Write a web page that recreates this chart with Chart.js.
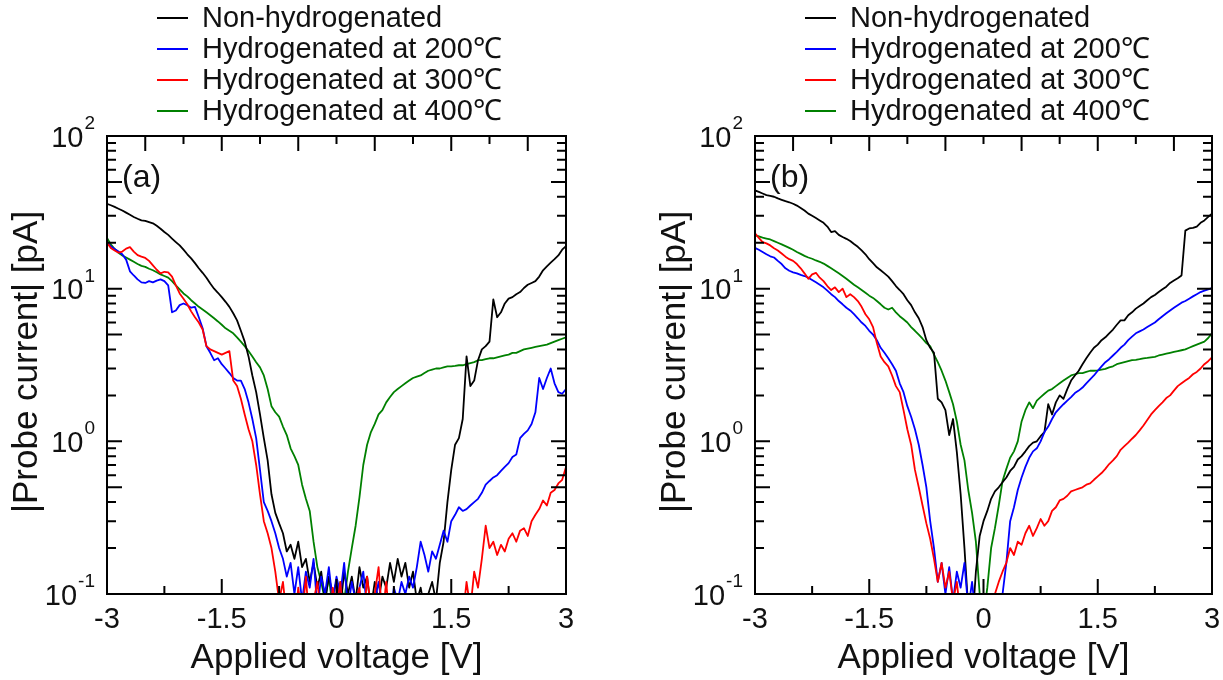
<!DOCTYPE html>
<html>
<head>
<meta charset="utf-8">
<script src="https://cdn.jsdelivr.net/npm/chart.js@4.4.1/dist/chart.umd.min.js"></script>
<style>
  html, body { margin: 0; padding: 0; background: #fff; }
  #wrap { position: relative; width: 1223px; height: 680px; }
  canvas { position: absolute; top: 0; }
  #panelA { left: 0; }
  #panelB { left: 612px; }
</style>
</head>
<body>
<div id="wrap">
  <canvas id="panelA" width="612" height="680"></canvas>
  <canvas id="panelB" width="611" height="680"></canvas>
</div>
<script>
// applied voltage sweep [V]
const voltage = [
  -3, -2.95, -2.9, -2.85, -2.8, -2.75, -2.7, -2.65, -2.6, -2.55,
  -2.5, -2.45, -2.4, -2.35, -2.3, -2.25, -2.2, -2.15, -2.1, -2.05,
  -2, -1.95, -1.9, -1.85, -1.8, -1.75, -1.7, -1.65, -1.6, -1.55,
  -1.5, -1.45, -1.4, -1.35, -1.3, -1.25, -1.2, -1.15, -1.1, -1.05,
  -1, -0.95, -0.9, -0.85, -0.8, -0.75, -0.7, -0.65, -0.6, -0.55,
  -0.5, -0.45, -0.4, -0.35, -0.3, -0.25, -0.2, -0.15, -0.1, -0.05,
  0, 0.05, 0.1, 0.15, 0.2, 0.25, 0.3, 0.35, 0.4, 0.45,
  0.5, 0.55, 0.6, 0.65, 0.7, 0.75, 0.8, 0.85, 0.9, 0.95,
  1, 1.05, 1.1, 1.15, 1.2, 1.25, 1.3, 1.35, 1.4, 1.45,
  1.5, 1.55, 1.6, 1.65, 1.7, 1.75, 1.8, 1.85, 1.9, 1.95,
  2, 2.05, 2.1, 2.15, 2.2, 2.25, 2.3, 2.35, 2.4, 2.45,
  2.5, 2.55, 2.6, 2.65, 2.7, 2.75, 2.8, 2.85, 2.9, 2.95,
  3
];

// |probe current| [pA], panel (a)
const aNonHyd = [
  36, 35.2, 34.3, 33.4, 32.5, 31.5, 30.5, 29.5, 28.7, 28,
  27.8, 27.3, 26.8, 25.8, 24.7, 23.5, 22.5, 21.3, 20.2, 19.2,
  18, 16.8, 15.8, 14.7, 13.6, 12.7, 11.8, 10.8, 10, 9.4,
  8.8, 8.2, 7.6, 6.9, 6.2, 5.3, 4.5, 3.6, 2.7, 2.1,
  1.5, 1.05, 0.75, 0.45, 0.34, 0.29, 0.25, 0.19, 0.21, 0.17,
  0.22, 0.15, 0.17, 0.12, 0.16, 0.11, 0.14, 0.09, 0.13, 0.1,
  0.12, 0.08, 0.14, 0.1, 0.13, 0.09, 0.15, 0.11, 0.13, 0.08,
  0.12, 0.09, 0.13, 0.11, 0.16, 0.12, 0.17, 0.13, 0.16, 0.11,
  0.14, 0.09, 0.11, 0.08, 0.1, 0.12, 0.09, 0.16, 0.22, 0.4,
  0.65, 0.95, 1.05, 1.4, 3.6, 2.3, 2.5, 3.4, 4, 4.2,
  4.5, 8.5, 6.5, 7, 8, 8.6, 8.8, 9.2, 9.5, 10.1,
  10.6, 10.9, 11.2, 12, 13.2, 14, 14.8, 15.6, 16.5, 18,
  19
];
const aHyd200 = [
  20, 19, 18.2, 17.5, 16.8, 15.5, 13, 12.2, 11.5, 11,
  10.9, 11.2, 11, 11.3, 11.5, 11.2, 10.5, 7, 7.2, 7.8,
  8, 7.8, 7.5, 7.6, 6.5, 5.5, 4.2, 3.8, 3.4, 3.5,
  3.2, 3, 2.8, 2.6, 2.5, 2.5, 2.2, 1.8, 1.4, 1.05,
  0.65, 0.4, 0.35, 0.3, 0.25, 0.2, 0.17, 0.13, 0.16, 0.1,
  0.15, 0.09, 0.14, 0.11, 0.17, 0.08, 0.13, 0.1, 0.15, 0.09,
  0.13, 0.1, 0.16, 0.08, 0.12, 0.09, 0.11, 0.14, 0.08, 0.1,
  0.09, 0.12, 0.08, 0.1, 0.07, 0.11, 0.09, 0.12, 0.1, 0.13,
  0.11, 0.15, 0.22, 0.18, 0.14, 0.19, 0.17, 0.21, 0.26, 0.22,
  0.3, 0.33, 0.37, 0.35, 0.36, 0.38, 0.4, 0.42, 0.46, 0.52,
  0.55, 0.58, 0.6, 0.64, 0.68, 0.72, 0.79, 0.82, 1.05, 1.12,
  1.18, 1.3, 1.55, 2.6, 2.2, 2.6, 3, 2.4, 2.1, 2.05,
  2.2
];
const aHyd300 = [
  20, 18.5, 17.8, 17.2, 17.5, 18.3, 18.7, 17.5, 16.6, 16.2,
  15.9, 15.2, 14.2, 13.3, 12.6, 12.9, 12.8, 12, 10.5, 9.3,
  8.6, 7.9, 7.1, 6.5, 6, 5.4, 4.2, 4, 3.9, 3.8,
  3.7, 3.8, 3.9, 2.5, 2.3, 1.9, 1.5, 1.2, 1, 0.7,
  0.45, 0.3, 0.25, 0.2, 0.14, 0.09, 0.12, 0.07, 0.1, 0.06,
  0.11, 0.07, 0.13, 0.06, 0.09, 0.12, 0.07, 0.1, 0.06, 0.11,
  0.08, 0.12, 0.06, 0.1, 0.07, 0.09, 0.11, 0.06, 0.13, 0.08,
  0.1, 0.15, 0.07, 0.12, 0.06, 0.08, 0.1, 0.06, 0.09, 0.07,
  0.06, 0.09, 0.07, 0.05, 0.08, 0.06, 0.1, 0.07, 0.06, 0.09,
  0.07, 0.06, 0.09, 0.07, 0.12, 0.08, 0.14, 0.11, 0.17, 0.28,
  0.2, 0.22, 0.18, 0.21, 0.19, 0.23, 0.25, 0.22, 0.26, 0.27,
  0.24, 0.3, 0.33, 0.36, 0.41, 0.38, 0.46, 0.48, 0.53, 0.56,
  0.68
];
const aHyd400 = [
  21.5, 19.5, 18.2, 17.2, 16.5, 16, 15.5, 15, 14.5, 14.1,
  13.9, 13.5, 13.2, 12.8, 12.4, 12.1, 11.8, 11.2, 10.5, 9.9,
  9.3, 8.9, 8.4, 8, 7.6, 7.3, 7, 6.7, 6.4, 6.1,
  5.8, 5.5, 5.3, 5.1, 4.8, 4.5, 4.2, 3.9, 3.6, 3.3,
  3.05, 2.7, 2.2, 1.7, 1.55, 1.45, 1.25, 1.1, 0.9, 0.8,
  0.7, 0.52, 0.42, 0.35, 0.22, 0.15, 0.12, 0.09, 0.13, 0.08,
  0.1, 0.12, 0.09, 0.14, 0.2, 0.28, 0.43, 0.7, 0.95, 1.15,
  1.3, 1.5, 1.6, 1.8, 1.95, 2.1, 2.2, 2.3, 2.4, 2.5,
  2.6, 2.65, 2.7, 2.8, 2.9, 2.95, 3, 3, 3.05, 3.1,
  3.1, 3.12, 3.15, 3.15, 3.2, 3.25, 3.3, 3.4, 3.4, 3.45,
  3.5, 3.5, 3.55, 3.6, 3.65, 3.7, 3.8, 3.8, 3.9, 4,
  4.05, 4.1, 4.15, 4.2, 4.25, 4.3, 4.4, 4.5, 4.6, 4.7,
  4.8
];

// |probe current| [pA], panel (b)
const bNonHyd = [
  44, 43, 42, 41, 40.5, 40, 39, 38.2, 37.4, 36.8,
  36, 35, 33.8, 32.5, 31, 30, 29, 28, 27, 25.5,
  23.5, 23.8, 22.5, 21.8, 21.2, 20.5, 19.6, 18.8, 17.8, 16.8,
  15.6, 14.7, 13.8, 13.2, 12.6, 12, 11.2, 10.4, 9.8, 9.2,
  8.4, 7.8, 7, 6.4, 5.6, 4.6, 4.1, 3.8, 1.9, 1.8,
  1.6, 1.1, 1.4, 0.85, 0.45, 0.2, 0.08, 0.06, 0.14, 0.24,
  0.3, 0.35, 0.42, 0.47, 0.5, 0.54, 0.58, 0.64, 0.68, 0.76,
  0.8, 0.86, 0.93, 0.98, 1, 1.08, 1.15, 1.75, 1.5, 1.8,
  2, 1.9, 2.2, 2.5, 2.7, 2.9, 3.2, 3.5, 3.8, 4.1,
  4.3, 4.6, 4.8, 5.1, 5.4, 5.8, 6.2, 6.2, 6.7, 7,
  7.4, 7.7, 8, 8.4, 8.8, 9.1, 9.5, 9.9, 10.3, 10.9,
  11.3, 11.7, 12.2, 24, 24.8, 25, 25.5, 27, 28, 29.5,
  31
];
const bHyd200 = [
  18.5, 18, 17.4, 16.8, 16.3, 16, 15.2, 14.5, 13.6, 13.1,
  12.8, 12.6, 12.3, 12.1, 11.8, 11.4, 11, 10.6, 10.2, 9.7,
  9.2, 8.8, 8.3, 7.9, 7.5, 7.2, 6.8, 6.4, 6, 5.7,
  5.3, 5, 4.6, 4.1, 3.8, 3.5, 3.2, 2.9, 2.4, 2.1,
  1.7, 1.45, 1.2, 0.95, 0.7, 0.5, 0.3, 0.2, 0.12, 0.16,
  0.1, 0.15, 0.09, 0.14, 0.11, 0.16, 0.08, 0.12, 0.07, 0.06,
  0.05, 0.06, 0.05, 0.07, 0.06, 0.1, 0.16, 0.3, 0.37, 0.48,
  0.58, 0.68, 0.78, 0.86, 0.9, 1, 1.15, 1.25, 1.4, 1.55,
  1.65, 1.75, 1.85, 1.95, 2.07, 2.15, 2.25, 2.4, 2.55, 2.7,
  2.9, 3.1, 3.3, 3.45, 3.65, 3.85, 4.1, 4.3, 4.6, 4.85,
  5.1, 5.25, 5.4, 5.6, 5.8, 6, 6.3, 6.6, 6.9, 7.2,
  7.5, 7.8, 8.1, 8.3, 8.6, 8.9, 9.2, 9.5, 9.7, 9.9,
  10.1
];
const bHyd300 = [
  23, 21.5, 20.2, 19.8, 19.2, 18.4, 17.8, 17, 16.2, 15.6,
  15.2, 14.5, 13.6, 12.6, 11.6, 12.4, 12.7, 11.8, 11.2, 10.4,
  9.8, 10.2, 9.5, 10, 8.8, 9.2, 8.8, 8.3, 7.6, 6.8,
  6.3, 5.6, 4.4, 3.6, 3.3, 3.1, 2.7, 2.3, 2.1, 1.6,
  1.2, 0.95, 0.65, 0.5, 0.38, 0.29, 0.23, 0.17, 0.12, 0.16,
  0.11, 0.14, 0.09, 0.12, 0.07, 0.06, 0.05, 0.06, 0.05, 0.05,
  0.06, 0.07, 0.09, 0.1, 0.12, 0.14, 0.16, 0.2, 0.18, 0.22,
  0.21, 0.25, 0.28, 0.24, 0.27, 0.31, 0.28, 0.3, 0.35, 0.37,
  0.41, 0.42, 0.44, 0.47, 0.48, 0.49, 0.5, 0.52, 0.53, 0.56,
  0.59, 0.62, 0.66, 0.71, 0.75, 0.8, 0.88, 0.93, 0.98, 1.04,
  1.1, 1.18, 1.27, 1.38, 1.5, 1.6, 1.7, 1.8, 1.92, 2,
  2.15, 2.3, 2.4, 2.5, 2.6, 2.75, 2.85, 3, 3.2, 3.35,
  3.55
];
const bHyd400 = [
  22.4, 22, 21.6, 21.3, 21, 20.5, 20, 19.5, 19, 18.5,
  18, 17.4, 16.9, 16.4, 16, 15.7, 15.3, 15, 14.6, 14.1,
  13.6, 13.1, 12.6, 12.1, 11.6, 11.1, 10.6, 10.2, 9.8, 9.4,
  9, 8.7, 8.3, 7.9, 7.5, 7.3, 7.5, 7, 6.6, 6.3,
  6, 5.6, 5.3, 5, 4.7, 4.4, 4.2, 3.7, 3.3, 2.9,
  2.5, 2.1, 1.75, 1.35, 0.95, 0.75, 0.48, 0.34, 0.22, 0.1,
  0.07, 0.11, 0.2, 0.27, 0.38, 0.55, 0.66, 0.78, 0.86, 1,
  1.35, 1.6, 1.8, 1.65, 1.85, 1.95, 2.05, 2.15, 2.2, 2.3,
  2.4, 2.5, 2.6, 2.7, 2.75, 2.8, 2.8, 2.85, 2.9, 2.9,
  2.92, 2.95, 2.98, 3.05, 3.1, 3.2, 3.25, 3.3, 3.35, 3.4,
  3.42, 3.45, 3.5, 3.52, 3.55, 3.58, 3.65, 3.7, 3.75, 3.8,
  3.85, 3.9, 3.95, 4, 4.1, 4.2, 4.3, 4.4, 4.5, 4.75,
  5.1
];

const seriesNames = ['Non-hydrogenated', 'Hydrogenated at 200℃', 'Hydrogenated at 300℃', 'Hydrogenated at 400℃'];
const seriesColors = ['#000000', '#0000ff', '#ff0000', '#008000'];
const drawOrder = [2, 1, 0, 3];   // red on top, green underneath

const xTickValues = [-3, -1.5, 0, 1.5, 3];
const xTickLabels = ['-3', '-1.5', '0', '1.5', '3'];
const bottomTicks = [-3, -2.25, -1.5, -0.75, 0, 0.75, 1.5, 2.25, 3];
const topTicks = [-2.5, -2, -1.5, -1, -0.5, 0, 0.5, 1, 1.5, 2, 2.5];
const yDecades = [0.1, 1, 10, 100];
const yExponents = ['-1', '0', '1', '2'];

const FONT = '"Liberation Sans", Arial, sans-serif';
const INK = '#111';

function points(values) {
  return voltage.map((v, i) => ({ x: v, y: values[i] }));
}

// frame, inward ticks, labels, legend
const frameAxes = {
  id: 'frameAxes',
  afterDraw(chart, args, opts) {
    const { ctx, chartArea: a, scales: { x, y } } = chart;
    ctx.save();
    ctx.strokeStyle = '#000';
    ctx.lineWidth = 2;
    ctx.lineCap = 'butt';
    ctx.strokeRect(a.left, a.top, a.right - a.left, a.bottom - a.top);

    ctx.beginPath();
    bottomTicks.forEach(v => {
      const px = x.getPixelForValue(v);
      const len = xTickValues.includes(v) ? 15 : 8;
      ctx.moveTo(px, a.bottom);
      ctx.lineTo(px, a.bottom - len);
    });
    topTicks.forEach(v => {
      const px = x.getPixelForValue(v);
      const len = Number.isInteger(v) ? 8 : 15;
      ctx.moveTo(px, a.top);
      ctx.lineTo(px, a.top + len);
    });
    [0.1, 1, 10].forEach(d => {
      for (let m = 1; m <= 9; m++) {
        const py = y.getPixelForValue(d * m);
        const len = (m === 1 || m === 5) ? 15 : 9;
        ctx.moveTo(a.left, py);
        ctx.lineTo(a.left + len, py);
        ctx.moveTo(a.right, py);
        ctx.lineTo(a.right - len, py);
      }
    });
    ctx.stroke();

    ctx.fillStyle = INK;
    // x tick labels
    ctx.font = '29px ' + FONT;
    ctx.textAlign = 'center';
    ctx.textBaseline = 'alphabetic';
    xTickValues.forEach((v, i) => {
      ctx.fillText(xTickLabels[i], x.getPixelForValue(v), a.bottom + 34);
    });

    // y tick labels as 10 with a raised exponent
    const right = a.left - 12;
    yDecades.forEach((v, i) => {
      const py = y.getPixelForValue(v);
      ctx.font = '19px ' + FONT;
      const ew = ctx.measureText(yExponents[i]).width;
      ctx.textAlign = 'left';
      ctx.fillText(yExponents[i], right - ew, py - 7);
      ctx.font = '29px ' + FONT;
      ctx.textAlign = 'right';
      ctx.fillText('10', right - ew - 1, py + 10.5);
    });

    // axis titles
    ctx.font = '35px ' + FONT;
    ctx.textAlign = 'center';
    ctx.fillText('Applied voltage [V]', (a.left + a.right) / 2, 668);
    ctx.save();
    ctx.translate(a.left - 70, (a.top + a.bottom) / 2 - 3);
    ctx.rotate(-Math.PI / 2);
    ctx.fillText('|Probe current| [pA]', 0, 0);
    ctx.restore();

    // panel tag
    ctx.font = '32px ' + FONT;
    ctx.textAlign = 'left';
    ctx.textBaseline = 'middle';
    ctx.fillText(opts.tag, a.left + 15, a.top + 42);

    // legend
    ctx.font = '29px ' + FONT;
    seriesNames.forEach((name, i) => {
      const ry = 18 + i * 31;
      ctx.strokeStyle = seriesColors[i];
      ctx.lineWidth = 2;
      ctx.beginPath();
      ctx.moveTo(a.left + 50, ry);
      ctx.lineTo(a.left + 81, ry);
      ctx.stroke();
      ctx.fillStyle = INK;
      ctx.fillText(name, a.left + 95, ry + 1);
    });
    ctx.restore();
  }
};

function makePanel(canvasId, tag, series, padding) {
  const ctx = document.getElementById(canvasId).getContext('2d');
  return new Chart(ctx, {
    type: 'line',
    data: {
      datasets: series.map((vals, i) => ({
        label: seriesNames[i],
        data: points(vals),
        borderColor: seriesColors[i],
        borderWidth: 1.8,
        borderJoinStyle: 'round',
        pointRadius: 0,
        tension: 0,
        fill: false,
        order: drawOrder[i]
      }))
    },
    options: {
      responsive: false,
      animation: false,
      events: [],
      layout: { padding: padding },
      scales: {
        x: { type: 'linear', min: -3, max: 3, display: false },
        y: { type: 'logarithmic', min: 0.1, max: 100, display: false }
      },
      plugins: {
        legend: { display: false },
        tooltip: { enabled: false },
        frameAxes: { tag: tag }
      }
    },
    plugins: [frameAxes]
  });
}

makePanel('panelA', '(a)', [aNonHyd, aHyd200, aHyd300, aHyd400],
  { left: 107, right: 46, top: 136, bottom: 86 });
makePanel('panelB', '(b)', [bNonHyd, bHyd200, bHyd300, bHyd400],
  { left: 143, right: 11, top: 136, bottom: 86 });
</script>
</body>
</html>
